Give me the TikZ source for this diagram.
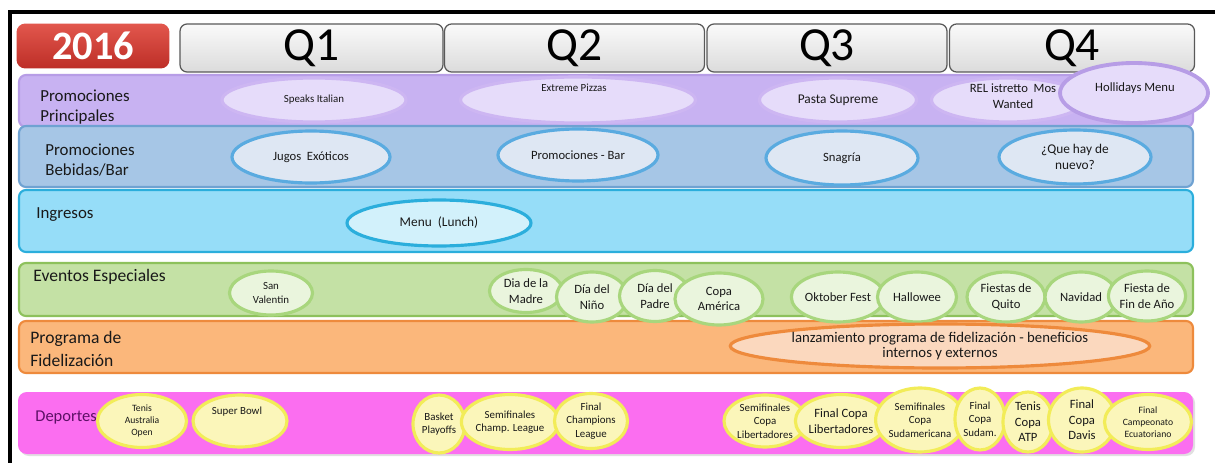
\documentclass[tikz,border=0pt]{standalone}
\usepackage{fontspec}
\setmainfont{Carlito}
\usetikzlibrary{shapes.geometric}
\definecolor{yearTop}{HTML}{E2574D}
\definecolor{yearBot}{HTML}{BD2E27}
\definecolor{ppFill}{HTML}{C8B2F2}
\definecolor{ppEdge}{HTML}{B79DE6}
\definecolor{ppLight}{HTML}{E6DCFA}
\definecolor{ppRing}{HTML}{CDB6F2}
\definecolor{bbFill}{HTML}{A6C6E6}
\definecolor{bbEdge}{HTML}{6FA2D2}
\definecolor{bbLight}{HTML}{DEE7F3}
\definecolor{bbRing}{HTML}{5AABE0}
\definecolor{inFill}{HTML}{96DDF8}
\definecolor{inEdge}{HTML}{2BAEDC}
\definecolor{inLight}{HTML}{D2F1FB}
\definecolor{evFill}{HTML}{C4E1A5}
\definecolor{evEdge}{HTML}{8DC15C}
\definecolor{evLight}{HTML}{EAF5DD}
\definecolor{evRing}{HTML}{A8D67D}
\definecolor{fiFill}{HTML}{FBB77B}
\definecolor{fiEdge}{HTML}{EE8A3C}
\definecolor{fiLight}{HTML}{FBD8BE}
\definecolor{deFill}{HTML}{FB6EF0}
\definecolor{deLight}{HTML}{FBF6BA}
\definecolor{deRing}{HTML}{F2EC58}
\definecolor{deText}{HTML}{5C1066}
\begin{document}
\begin{tikzpicture}[x=0.02cm,y=-0.02cm,
  rowbox/.style={rounded corners=4pt,line width=1.2pt},
  lbl/.style={anchor=west,align=left,inner sep=0pt,text=black!90,font=\fontsize{9.6}{11.5}\selectfont},
  quarter/.style={draw=black!65,rounded corners=4pt,line width=0.7pt,top color=gray!4,bottom color=gray!28,
    minimum height=0.96cm,inner sep=0pt,font=\fontsize{27}{27}\selectfont},
  bubble/.style={ellipse,inner sep=0pt,align=center,line width=1.8pt,text=black!90},
  ppEl/.style={bubble,fill=ppLight,draw=ppRing},
  bbEl/.style={bubble,fill=bbLight,draw=bbRing},
  inEl/.style={bubble,fill=inLight,draw=inEdge},
  evEl/.style={bubble,fill=evLight,draw=evRing},
  fiEl/.style={bubble,fill=fiLight,draw=fiEdge},
  deEl/.style={bubble,fill=deLight,draw=deRing},
  txtS/.style={font=\fontsize{5.5}{7}\selectfont},
  txtM/.style={font=\fontsize{6.2}{7.6}\selectfont},
  txtL/.style={font=\fontsize{7.2}{8.8}\selectfont},
  txtXL/.style={font=\fontsize{7.6}{9}\selectfont}]
\useasboundingbox (0,0) rectangle (1215,463);
\fill[white] (0,0) rectangle (1215,463);
% frame
\draw[line width=2.8pt] (10,463) -- (10,12) -- (1215,12);

% header
\node[rounded corners=5pt,top color=yearTop,bottom color=yearBot,minimum width=3.06cm,minimum height=0.9cm,
  text=white,font=\bfseries\fontsize{23}{23}\selectfont] (year) at (93,46) {2016};
\node[quarter,minimum width=5.26cm] (q1) at (311.5,48) {Q1};
\node[quarter,minimum width=5.2cm] (q2) at (574.5,48) {Q2};
\node[quarter,minimum width=4.8cm] (q3) at (827,48) {Q3};
\node[quarter,minimum width=4.9cm] (q4) at (1072,48) {Q4};

% rows
\draw[rowbox,fill=ppFill,draw=ppEdge] (19,75) rectangle (1193,127);
\draw[rowbox,fill=bbFill,draw=bbEdge] (19,126) rectangle (1193,187);
\draw[rowbox,fill=inFill,draw=inEdge] (19,190) rectangle (1193,252);
\draw[rowbox,fill=evFill,draw=evEdge] (19,263) rectangle (1193,316);
\draw[rowbox,fill=fiFill,draw=fiEdge] (19,321) rectangle (1193,373);
\fill[rounded corners=5pt,fill=black!12] (20,394) rectangle (1195,456);
\fill[rounded corners=5pt,fill=deFill] (18,392) rectangle (1193,454);

\node[lbl] (ppLbl) at (40,107) {Promociones\\Principales};
\node[lbl] (bbLbl) at (45,160) {Promociones\\Bebidas/Bar};
\node[lbl] (inLbl) at (36,215) {Ingresos};
\node[lbl,font=\fontsize{10}{12}\selectfont] (evLbl) at (33,277) {Eventos Especiales};
\node[lbl,font=\fontsize{10}{13.5}\selectfont] (fiLbl) at (30,349) {Programa de\\Fidelización};
\node[lbl,text=deText,font=\fontsize{9.4}{12}\selectfont] (deLbl) at (35,418) {Deportes};

% promociones principales
\node[ppEl,txtM,minimum width=3.68cm,minimum height=0.88cm] (italian) at (314,100) {Speaks Italian};
\node[ppEl,minimum width=4.7cm,minimum height=0.92cm] (pizzas) at (578,100) {};
\node[txtM,text=black!90] (pizzasTxt) at (574,88) {Extreme Pizzas};
\node[ppEl,txtXL,minimum width=3.14cm,minimum height=0.88cm] (pasta) at (838,100) {Pasta Supreme};
\node[ppEl,minimum width=3.06cm,minimum height=0.88cm] (istretto) at (1008,100) {};
\node[txtL,align=center,text=black!90] (istrettoTxt) at (1013,96) {REL istretto\ \ Mos\\Wanted};
\node[bubble,fill=ppLight,draw=ppEdge,line width=2.2pt,minimum width=2.96cm,minimum height=1.2cm] (holidays) at (1134,93) {};
\node[txtL,text=black!90] (holidaysTxt) at (1135,88) {Hollidays Menu};

% bebidas / bar
\node[bbEl,txtL,minimum width=3.16cm,minimum height=1.04cm] (jugos) at (311,157) {Jugos\ \ Exóticos};
\node[bbEl,txtL,minimum width=3.2cm,minimum height=1.04cm] (bar) at (578,155) {Promociones - Bar};
\node[bbEl,txtL,minimum width=3.04cm,minimum height=1.08cm] (sangria) at (842,158) {Snagría};
\node[bbEl,txtXL,minimum width=3.04cm,minimum height=1.08cm] (nuevo) at (1075,157) {¿Que hay de\\nuevo?};

% ingresos
\node[inEl,txtXL,minimum width=3.68cm,minimum height=0.92cm] (lunch) at (439,223) {Menu\ \ (Lunch)};

% eventos especiales
\node[evEl,txtM,minimum width=1.66cm,minimum height=0.88cm] (valentin) at (271,293) {San\\Valentin};
\node[evEl,txtL,minimum width=1.46cm,minimum height=0.86cm] (madre) at (526,291) {Dia de la\\Madre};
\node[evEl,txtL,minimum width=1.42cm,minimum height=1.0cm] (nino) at (592,297) {Día del\\Niño};
\node[evEl,txtL,minimum width=1.42cm,minimum height=1.02cm] (padre) at (655,296) {Día del\\Padre};
\node[evEl,txtL,minimum width=1.76cm,minimum height=1.04cm] (copa) at (719,299) {Copa\\América};
\node[evEl,txtL,minimum width=1.72cm,minimum height=1.0cm] (oktober) at (838,297) {Oktober Fest};
\node[evEl,txtL,minimum width=1.58cm,minimum height=1.0cm] (halloween) at (917,297) {Hallowee};
\node[evEl,txtL,minimum width=1.56cm,minimum height=1.0cm] (quito) at (1006,297) {Fiestas de\\Quito};
\node[evEl,txtL,minimum width=1.44cm,minimum height=1.0cm] (navidad) at (1081,297) {Navidad};
\node[evEl,txtL,minimum width=1.48cm,minimum height=1.0cm] (anio) at (1147,296) {Fiesta de\\Fin de Año};

% fidelizacion
\node[fiEl,font=\fontsize{8.4}{8.4}\selectfont,minimum width=8.3cm,minimum height=0.88cm] (lanzamiento) at (940,346)
  {lanzamiento programa de fidelización - beneficios\\internos y externos};

% deportes
\node[deEl,txtS,minimum width=1.78cm,minimum height=1.06cm] (australia) at (142,421) {Tenis\\Australia\\Open};
\node[deEl,minimum width=1.88cm,minimum height=1.04cm] (superbowl) at (240,421) {};
\node[txtM,text=black!90] (superbowlTxt) at (237,412) {Super Bowl};
\node[deEl,txtM,minimum width=1.04cm,minimum height=1.16cm] (basket) at (439,424) {Basket\\Playoffs};
\node[deEl,txtM,minimum width=1.92cm,minimum height=1.1cm] (semiChamp) at (510,422) {Semifinales\\Champ. League};
\node[deEl,txtM,minimum width=1.46cm,minimum height=1.1cm] (finalChamp) at (591,421) {Final\\Champions\\League};
\node[deEl,txtM,minimum width=1.64cm,minimum height=1.04cm] (semiLib) at (765,421) {Semifinales\\Copa\\Libertadores};
\node[deEl,txtL,minimum width=1.64cm,minimum height=1.06cm] (finalLib) at (841,421) {Final Copa\\Libertadores};
\node[deEl,txtM,minimum width=1.62cm,minimum height=1.28cm] (semiSud) at (920,420) {Semifinales\\Copa\\Sudamericana};
\node[deEl,txtM,minimum width=1.0cm,minimum height=1.24cm] (finalSud) at (980,419) {Final\\Copa\\Sudam.};
\node[deEl,txtL,minimum width=1.0cm,minimum height=1.2cm] (atp) at (1028,422) {Tenis\\Copa\\ATP};
\node[deEl,txtL,minimum width=1.34cm,minimum height=1.28cm] (davis) at (1082,420) {Final\\Copa\\Davis};
\node[deEl,txtS,minimum width=1.74cm,minimum height=1.1cm] (ecuador) at (1148,422) {Final\\Campeonato\\Ecuatoriano};
\end{tikzpicture}
\end{document}
